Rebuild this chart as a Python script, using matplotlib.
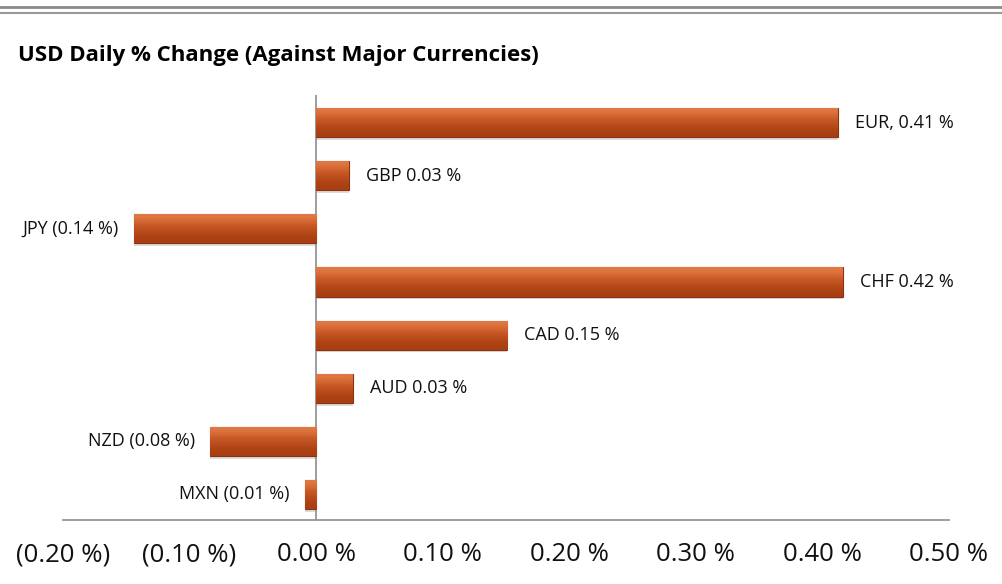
import matplotlib.pyplot as plt
import numpy as np
from matplotlib.lines import Line2D
from matplotlib.colors import LinearSegmentedColormap

# Data
currencies = ['EUR', 'GBP', 'JPY', 'CHF', 'CAD', 'AUD', 'NZD', 'MXN']
changes = [0.412, 0.026, -0.144, 0.416, 0.151, 0.029, -0.084, -0.009]
bar_labels = ['EUR, 0.41 %', 'GBP 0.03 %', 'JPY (0.14 %)', 'CHF 0.42 %',
              'CAD 0.15 %', 'AUD 0.03 %', 'NZD (0.08 %)', 'MXN (0.01 %)']
tick_values = [-0.2, -0.1, 0.0, 0.1, 0.2, 0.3, 0.4, 0.5]
tick_labels = ['(0.20 %)', '(0.10 %)', '0.00 %', '0.10 %', '0.20 %',
               '0.30 %', '0.40 %', '0.50 %']

plt.rcParams['font.family'] = ['Open Sans', 'DejaVu Sans']

fig = plt.figure(figsize=(10.03, 5.84), dpi=100)
ax = fig.add_axes([63 / 1003, 1 - 520 / 584, (949 - 63) / 1003, (520 - 95) / 584])

y = np.arange(len(currencies))
h = 0.55

# shadow under each bar
for yi, v in zip(y, changes):
    ax.barh(yi + 0.07, v, height=h, left=0, color='#999999', alpha=0.35,
            linewidth=0, zorder=1)

bars = ax.barh(y + 0.02, changes, height=h, color='#b8481b', edgecolor='#8a3210',
               linewidth=0.8, zorder=2)

# vertical gradient to mimic the bevelled look
grad = np.array([[0.0], [0.15], [0.35], [0.6], [0.85], [1.0]])
cmap = LinearSegmentedColormap.from_list('bevel', ['#e27a45', '#c95a26', '#b84a1b', '#a83e12'])
for bar in bars:
    x0 = bar.get_x()
    w = bar.get_width()
    y0 = bar.get_y()
    bh = bar.get_height()
    im = ax.imshow(grad, extent=(x0, x0 + w, y0 + bh, y0), aspect='auto',
                   cmap=cmap, zorder=3, interpolation='bicubic')
    im.set_clip_path(bar)

ax.set_xlim(-0.2, 0.5)
ax.set_ylim(len(currencies) - 0.5, -0.5)

# labels next to the bars
for yi, v, lab in zip(y, changes, bar_labels):
    if v >= 0:
        ax.annotate(lab, (v, yi + 0.02), xytext=(17, 0), textcoords='offset pixels',
                    ha='left', va='center', fontsize=13, color='#111111')
    else:
        ax.annotate(lab, (v, yi + 0.02), xytext=(-15, 0), textcoords='offset pixels',
                    ha='right', va='center', fontsize=13, color='#111111')

# axes styling
for s in ['top', 'right', 'left']:
    ax.spines[s].set_visible(False)
ax.spines['bottom'].set_color('#8c8c8c')
ax.spines['bottom'].set_linewidth(1.2)
ax.axvline(0, color='#8c8c8c', linewidth=1.2, zorder=0)
ax.set_yticks([])
ax.set_xticks(tick_values)
ax.set_xticklabels(tick_labels, fontsize=18.5)
ax.tick_params(axis='x', length=0, pad=16, colors='#111111')

# title
fig.text(18 / 1003, 1 - 55 / 584, 'USD Daily % Change (Against Major Currencies)',
         fontsize=16, fontweight='bold', ha='left', va='center')

# double rule at the top
fig.add_artist(Line2D([0, 1], [1 - 7 / 584, 1 - 7 / 584], color='#8a8a8a', linewidth=2,
                      transform=fig.transFigure))
fig.add_artist(Line2D([0, 1], [1 - 12.5 / 584, 1 - 12.5 / 584], color='#9a9a9a', linewidth=1.5,
                      transform=fig.transFigure))

fig.savefig('out.png', dpi=100)
